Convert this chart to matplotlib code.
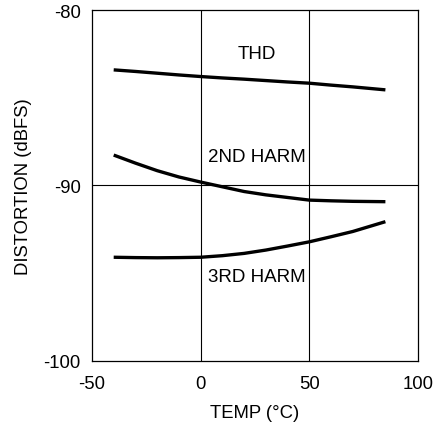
import matplotlib

matplotlib.use("Agg")
import matplotlib.pyplot as plt

plt.rcParams["font.family"] = ["Liberation Sans", "DejaVu Sans"]
plt.rcParams["axes.unicode_minus"] = False

# values
temp = [-40, -30, -20, -10, 0, 10, 20, 30, 40, 50, 60, 70, 85]
thd = [-83.41, -83.50, -83.60, -83.70, -83.79, -83.87, -83.94, -84.02, -84.10, -84.17, -84.28, -84.38, -84.55]
harm2 = [-88.27, -88.73, -89.16, -89.52, -89.81, -90.08, -90.35, -90.54, -90.69, -90.84, -90.88, -90.91, -90.93]
harm3 = [-94.10, -94.12, -94.13, -94.12, -94.10, -94.01, -93.88, -93.69, -93.46, -93.22, -92.93, -92.63, -92.07]

x_ticks = [-50, 0, 50, 100]
y_ticks = [-100, -90, -80]

fig = plt.figure(figsize=(4.4, 4.27), dpi=100)
ax = fig.add_axes([0.209, 0.153, 0.741, 0.821])

for x in (0, 50):
    ax.axvline(x, color="black", linewidth=0.8, zorder=1)
ax.axhline(-90, color="black", linewidth=0.8, zorder=1)

for series in (thd, harm2, harm3):
    ax.plot(temp, series, color="black", linewidth=2.4, zorder=3,
            solid_joinstyle="round", solid_capstyle="butt")

label_box = dict(facecolor="white", edgecolor="none", pad=1.5)
ax.text(26, -82.5, "THD", ha="center", va="center", fontsize=13.5, zorder=2)
ax.text(26, -88.35, "2ND HARM", ha="center", va="center", fontsize=13.5, bbox=label_box, zorder=2)
ax.text(26, -95.2, "3RD HARM", ha="center", va="center", fontsize=13.5, bbox=label_box, zorder=2)

ax.set_xlim(-50, 100)
ax.set_ylim(-100, -80)
ax.set_xticks(x_ticks)
ax.set_yticks(y_ticks)
ax.tick_params(length=0, labelsize=13.3)
ax.tick_params(axis="x", pad=10)
ax.tick_params(axis="y", pad=8)
for spine in ax.spines.values():
    spine.set_linewidth(0.9)

ax.set_xlabel("TEMP (°C)", fontsize=13.3, labelpad=9)
ax.set_ylabel("DISTORTION (dBFS)", fontsize=13.3, labelpad=8)

fig.savefig("out.png", dpi=100)
